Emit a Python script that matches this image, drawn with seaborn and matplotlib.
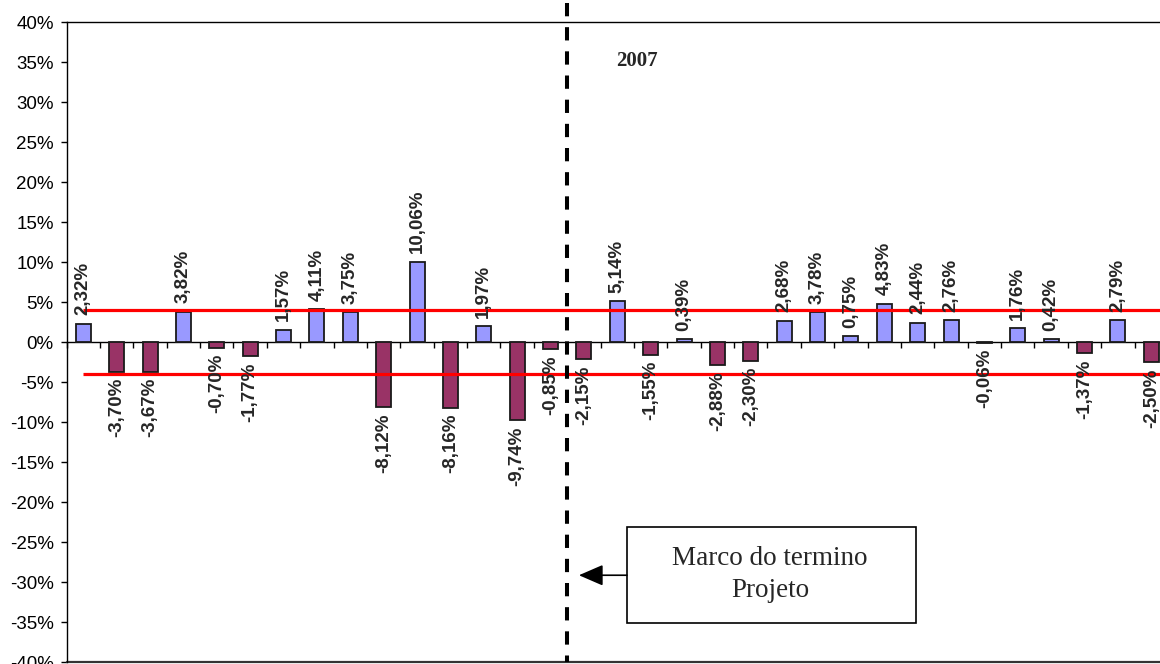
import numpy as np
import pandas as pd
import matplotlib
matplotlib.use('Agg')
import matplotlib.pyplot as plt
import seaborn as sns
from matplotlib.patches import Rectangle

periodos = ['P01', 'P02', 'P03', 'P04', 'P05', 'P06', 'P07', 'P08', 'P09', 'P10',
            'P11', 'P12', 'P13', 'P14', 'P15', 'P16', 'P17', 'P18', 'P19', 'P20',
            'P21', 'P22', 'P23', 'P24', 'P25', 'P26', 'P27', 'P28', 'P29', 'P30',
            'P31', 'P32', 'P33']
variacao = [2.32, -3.70, -3.67, 3.82, -0.70, -1.77, 1.57, 4.11, 3.75, -8.12,
            10.06, -8.16, 1.97, -9.74, -0.85, -2.15, 5.14, -1.55, 0.39, -2.88,
            -2.30, 2.68, 3.78, 0.75, 4.83, 2.44, 2.76, -0.06, 1.76, 0.42,
            -1.37, 2.79, -2.50]

# limites de controle (linhas vermelhas)
limite_sup = 4.0
limite_inf = -4.0

y_ticks = [40, 35, 30, 25, 20, 15, 10, 5, 0, -5, -10, -15, -20, -25, -30, -35, -40]
y_labels = ['40%', '35%', '30%', '25%', '20%', '15%', '10%', '5%', '0%', '-5%',
            '-10%', '-15%', '-20%', '-25%', '-30%', '-35%', '-40%']

# marco do termino do projeto: entre o 15o e o 16o periodo
marco = 14.5


def main():
    sns.set_theme(style='white')
    plt.rcParams['font.family'] = ['Liberation Sans', 'DejaVu Sans']

    df = pd.DataFrame({'periodo': periodos, 'variacao': variacao})
    df['sinal'] = np.where(df['variacao'] >= 0, 'alta', 'baixa')

    fig = plt.figure(figsize=(11.6, 6.64), dpi=100)
    ax = fig.add_axes([0.0574, 0.00226, 0.9495, 0.9646])

    sns.barplot(data=df, x='periodo', y='variacao', hue='sinal',
                palette={'alta': '#9999FF', 'baixa': '#993366'},
                dodge=False, width=0.45, saturation=1, legend=False,
                edgecolor='#1a1a1a', linewidth=1.3, ax=ax, zorder=3)

    # linhas de limite (do primeiro periodo ate a borda direita)
    n = len(variacao)
    ax.hlines([limite_sup, limite_inf], 0, n - 0.3, color='#FF0000', lw=2.3, zorder=4)

    # rotulos das barras
    for i, v in enumerate(variacao):
        txt = f"{v:.2f}%".replace('.', ',')
        if v >= 0:
            ax.annotate(txt, (i, v), xytext=(0, 6), textcoords='offset points',
                        rotation=90, ha='center', va='bottom',
                        fontsize=13.5, fontweight='bold', zorder=6)
        else:
            ax.annotate(txt, (i, v), xytext=(0, -4.3), textcoords='offset points',
                        rotation=90, ha='center', va='top',
                        fontsize=13.5, fontweight='bold', zorder=6)

    ax.set_xlim(-0.5, n - 0.5)
    ax.set_ylim(-40, 40)
    ax.set_yticks(y_ticks)
    ax.set_yticklabels(y_labels)
    ax.set_xticks(np.arange(-0.5, n, 1))
    ax.set_xticklabels([])
    ax.set_xlabel('')
    ax.set_ylabel('')

    # eixo das categorias cruzando no zero
    ax.spines['bottom'].set_position(('data', 0))
    for s in ['left', 'top', 'bottom', 'right']:
        ax.spines[s].set_color('black')
        ax.spines[s].set_linewidth(1.0)
    ax.axhline(-40, color='#333333', lw=1.6, clip_on=False, zorder=2)
    ax.tick_params(axis='x', bottom=True, direction='out', length=4, width=1, color='black')
    ax.tick_params(axis='y', left=True, direction='out', length=4.3, width=1,
                   color='black', labelsize=13.5, pad=5, labelcolor='black')

    # linha tracejada do marco
    ax.plot([marco, marco], [42.4, -40], color='black', lw=2.9, dashes=(3.3, 2.7),
            clip_on=False, zorder=5)

    ax.text(16.6, 35.1, '2007', fontsize=15, fontweight='bold',
            family=['Liberation Serif'], ha='center', va='center')

    # caixa de anotacao
    box = Rectangle((16.29, -35.1), 8.66, 12.0, facecolor='white', edgecolor='black',
                    lw=1.2, zorder=6)
    ax.add_patch(box)
    ax.text(20.58, -29.0, 'Marco do termino\nProjeto', fontsize=19.5,
            family=['Liberation Serif'], ha='center', va='center', linespacing=1.35,
            zorder=7)
    ax.annotate('', xy=(14.85, -29.1), xytext=(16.29, -29.1),
                arrowprops=dict(arrowstyle='-|>,head_length=1.5,head_width=0.65',
                                color='black', lw=1.2, shrinkA=0, shrinkB=0,
                                mutation_scale=10), zorder=7)

    fig.savefig('out.png', dpi=100)


if __name__ == '__main__':
    main()
